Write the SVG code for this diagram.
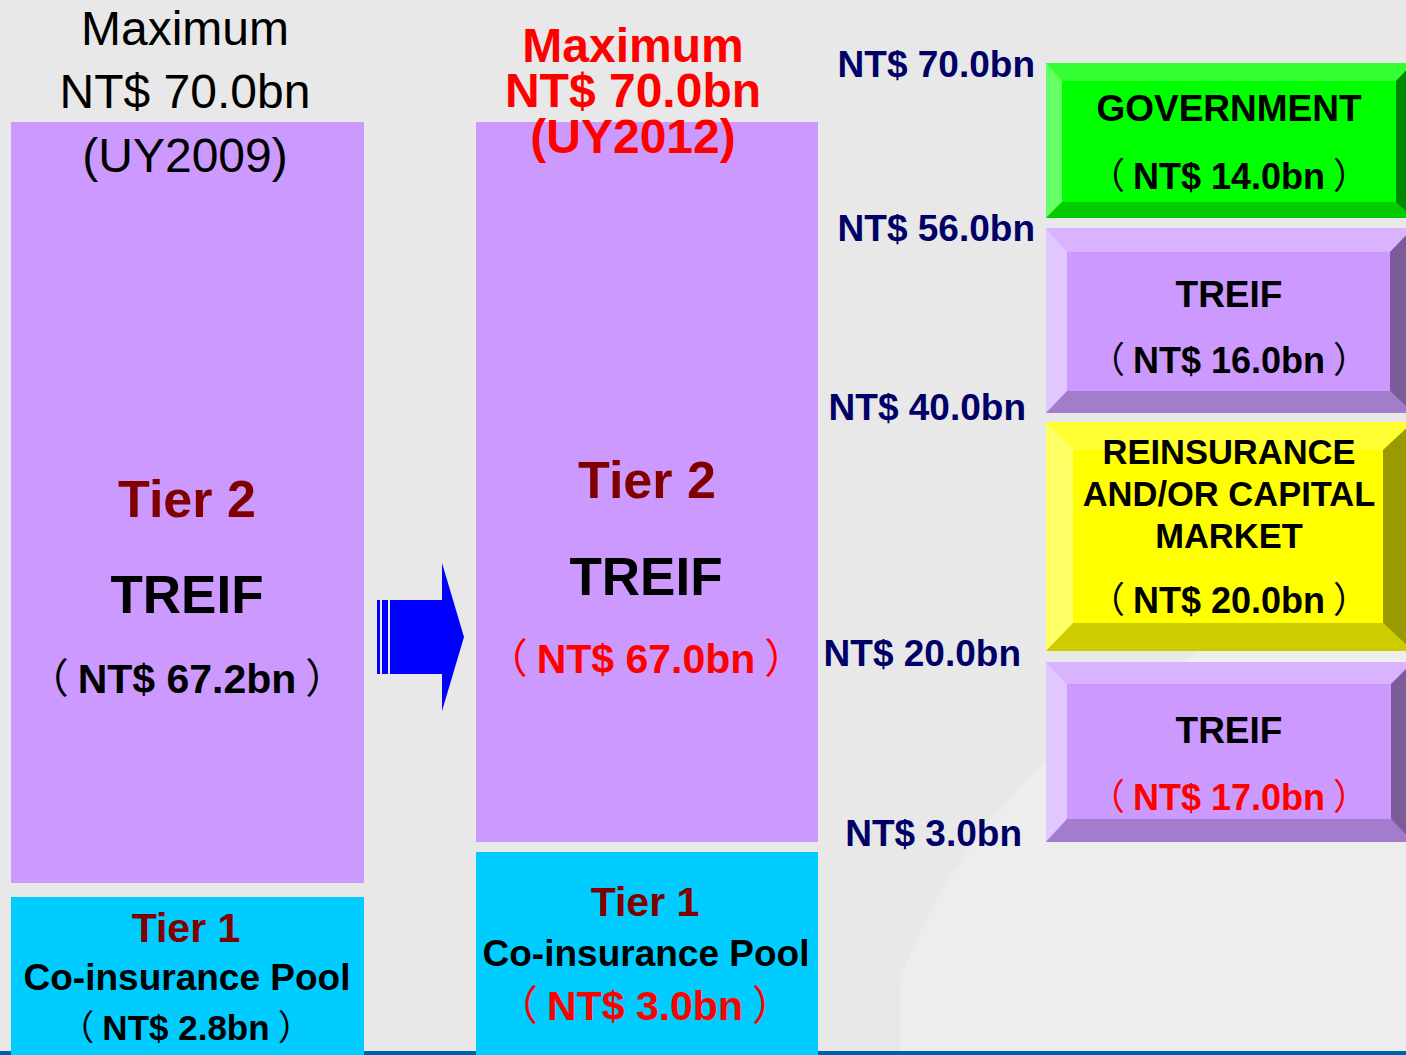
<svg xmlns="http://www.w3.org/2000/svg" width="1406" height="1055" viewBox="0 0 1406 1055">
<style>
text{font-family:"Liberation Sans",Arial,"Noto Sans CJK TC",sans-serif;text-anchor:middle}
.b{font-weight:bold}
.p{font-family:"Noto Sans CJK TC","Liberation Sans",sans-serif;font-weight:normal}
.dr{fill:#800000}
.red{fill:#ff0000}
.blk{fill:#000000}
.nv{fill:#000066;font-weight:bold;font-size:37px;text-anchor:end}
</style>
<rect width="1406" height="1055" fill="#e8e8e8"/>
<g id="watermark" fill="#ffffff" opacity="0.25">
<path d="M900 1055 L900 980 Q1000 700 1406 560 L1406 1055 Z"/>
<path d="M1000 880 L1406 880 L1406 1055 L1000 1055 Z"/>
</g>
<rect x="0" y="1051" width="1406" height="4" fill="#0060b0"/>

<g id="left-tier2">
<rect x="11" y="122" width="353" height="761" fill="#cc99ff"/>
<text x="187" y="517" class="b dr" font-size="52">Tier 2</text>
<text x="187" y="613" class="b blk" font-size="53">TREIF</text>
<text x="187" y="693" class="b blk" font-size="41"><tspan class="p">（</tspan><tspan dx="9">NT$ 67.2bn</tspan><tspan class="p" dx="9">）</tspan></text>
</g>
<g id="left-title">
<text x="185" y="45" font-size="48" fill="#000">Maximum</text>
<text x="185" y="108" font-size="48" fill="#000">NT$ 70.0bn</text>
<text x="185" y="172" font-size="48" fill="#000">(UY2009)</text>
</g>
<g id="left-tier1">
<rect x="11" y="897" width="353" height="158" fill="#00ccff"/>
<text x="186" y="942" class="b dr" font-size="41">Tier 1</text>
<text x="187" y="990" class="b blk" font-size="37">Co-insurance Pool</text>
<text x="186" y="1040" class="b blk" font-size="35"><tspan class="p">（</tspan><tspan dx="8">NT$ 2.8bn</tspan><tspan class="p" dx="8">）</tspan></text>
</g>

<g id="arrow" fill="#0000ff">
<rect x="377" y="600" width="3" height="74"/>
<rect x="382" y="600" width="6" height="74"/>
<path d="M390 600 L442 600 L442 563 L464 637 L442 711 L442 674 L390 674 Z"/>
</g>

<g id="mid-tier2">
<rect x="476" y="122" width="342" height="720" fill="#cc99ff"/>
<text x="647" y="498" class="b dr" font-size="52">Tier 2</text>
<text x="646" y="595" class="b blk" font-size="53">TREIF</text>
<text x="646" y="673" class="b red" font-size="41"><tspan class="p">（</tspan><tspan dx="9">NT$ 67.0bn</tspan><tspan class="p" dx="9">）</tspan></text>
</g>
<g id="mid-title">
<text x="633" y="62" font-size="48" class="b red">Maximum</text>
<text x="633" y="107" font-size="48" class="b red">NT$ 70.0bn</text>
<text x="633" y="153" font-size="48" class="b red">(UY2012)</text>
</g>
<g id="mid-tier1">
<rect x="476" y="852" width="342" height="203" fill="#00ccff"/>
<text x="645" y="916" class="b dr" font-size="41">Tier 1</text>
<text x="646" y="966" class="b blk" font-size="37">Co-insurance Pool</text>
<text x="645" y="1020" class="b red" font-size="41"><tspan class="p">（</tspan><tspan dx="9">NT$ 3.0bn</tspan><tspan class="p" dx="9">）</tspan></text>
</g>

<g id="scale-labels">
<text x="1035" y="77" class="nv">NT$ 70.0bn</text>
<text x="1035" y="241" class="nv">NT$ 56.0bn</text>
<text x="1026" y="420" class="nv">NT$ 40.0bn</text>
<text x="1021" y="666" class="nv">NT$ 20.0bn</text>
<text x="1022" y="846" class="nv">NT$ 3.0bn</text>
</g>

<g id="government">
<rect x="1046" y="63" width="367" height="155" fill="#00ff00"/>
<path d="M1046 63 L1413 63 L1396 81 L1062 81 Z" fill="#33ff33"/>
<path d="M1046 63 L1062 81 L1062 202 L1046 218 Z" fill="#66ff66"/>
<path d="M1046 218 L1062 202 L1396 202 L1413 218 Z" fill="#00cc00"/>
<path d="M1413 63 L1396 81 L1396 202 L1413 218 Z" fill="#008800"/>
<text x="1229" y="121" class="b blk" font-size="37">GOVERNMENT</text>
<text x="1229" y="189" class="b blk" font-size="36"><tspan class="p">（</tspan><tspan dx="8">NT$ 14.0bn</tspan><tspan class="p" dx="8">）</tspan></text>
</g>

<g id="treif-upper">
<rect x="1046" y="228" width="367" height="185" fill="#cc99ff"/>
<path d="M1046 228 L1413 228 L1390 252 L1067 252 Z" fill="#d9b3ff"/>
<path d="M1046 228 L1067 252 L1067 391 L1046 413 Z" fill="#e0c7ff"/>
<path d="M1046 413 L1067 391 L1390 391 L1413 413 Z" fill="#a37dcc"/>
<path d="M1413 228 L1390 252 L1390 391 L1413 413 Z" fill="#7a5c99"/>
<text x="1229" y="307" class="b blk" font-size="37">TREIF</text>
<text x="1229" y="373" class="b blk" font-size="36"><tspan class="p">（</tspan><tspan dx="8">NT$ 16.0bn</tspan><tspan class="p" dx="8">）</tspan></text>
</g>

<g id="reinsurance">
<rect x="1046" y="422" width="367" height="229" fill="#ffff00"/>
<path d="M1046 422 L1413 422 L1383 450 L1073 450 Z" fill="#ffff33"/>
<path d="M1046 422 L1073 450 L1073 623 L1046 651 Z" fill="#ffff66"/>
<path d="M1046 651 L1073 623 L1383 623 L1413 651 Z" fill="#cccc00"/>
<path d="M1413 422 L1383 450 L1383 623 L1413 651 Z" fill="#999900"/>
<text x="1229" y="464" class="b blk" font-size="34.5">REINSURANCE</text>
<text x="1229" y="506" class="b blk" font-size="34.5">AND/OR CAPITAL</text>
<text x="1229" y="548" class="b blk" font-size="34.5">MARKET</text>
<text x="1229" y="613" class="b blk" font-size="36"><tspan class="p">（</tspan><tspan dx="8">NT$ 20.0bn</tspan><tspan class="p" dx="8">）</tspan></text>
</g>

<g id="treif-lower">
<rect x="1046" y="662" width="367" height="180" fill="#cc99ff"/>
<path d="M1046 662 L1413 662 L1391 684 L1067 684 Z" fill="#d9b3ff"/>
<path d="M1046 662 L1067 684 L1067 819 L1046 842 Z" fill="#e0c7ff"/>
<path d="M1046 842 L1067 819 L1391 819 L1413 842 Z" fill="#a37dcc"/>
<path d="M1413 662 L1391 684 L1391 819 L1413 842 Z" fill="#7a5c99"/>
<text x="1229" y="743" class="b blk" font-size="37">TREIF</text>
<text x="1229" y="810" class="b red" font-size="36"><tspan class="p">（</tspan><tspan dx="8">NT$ 17.0bn</tspan><tspan class="p" dx="8">）</tspan></text>
</g>
<g id="connectors"/>
</svg>
